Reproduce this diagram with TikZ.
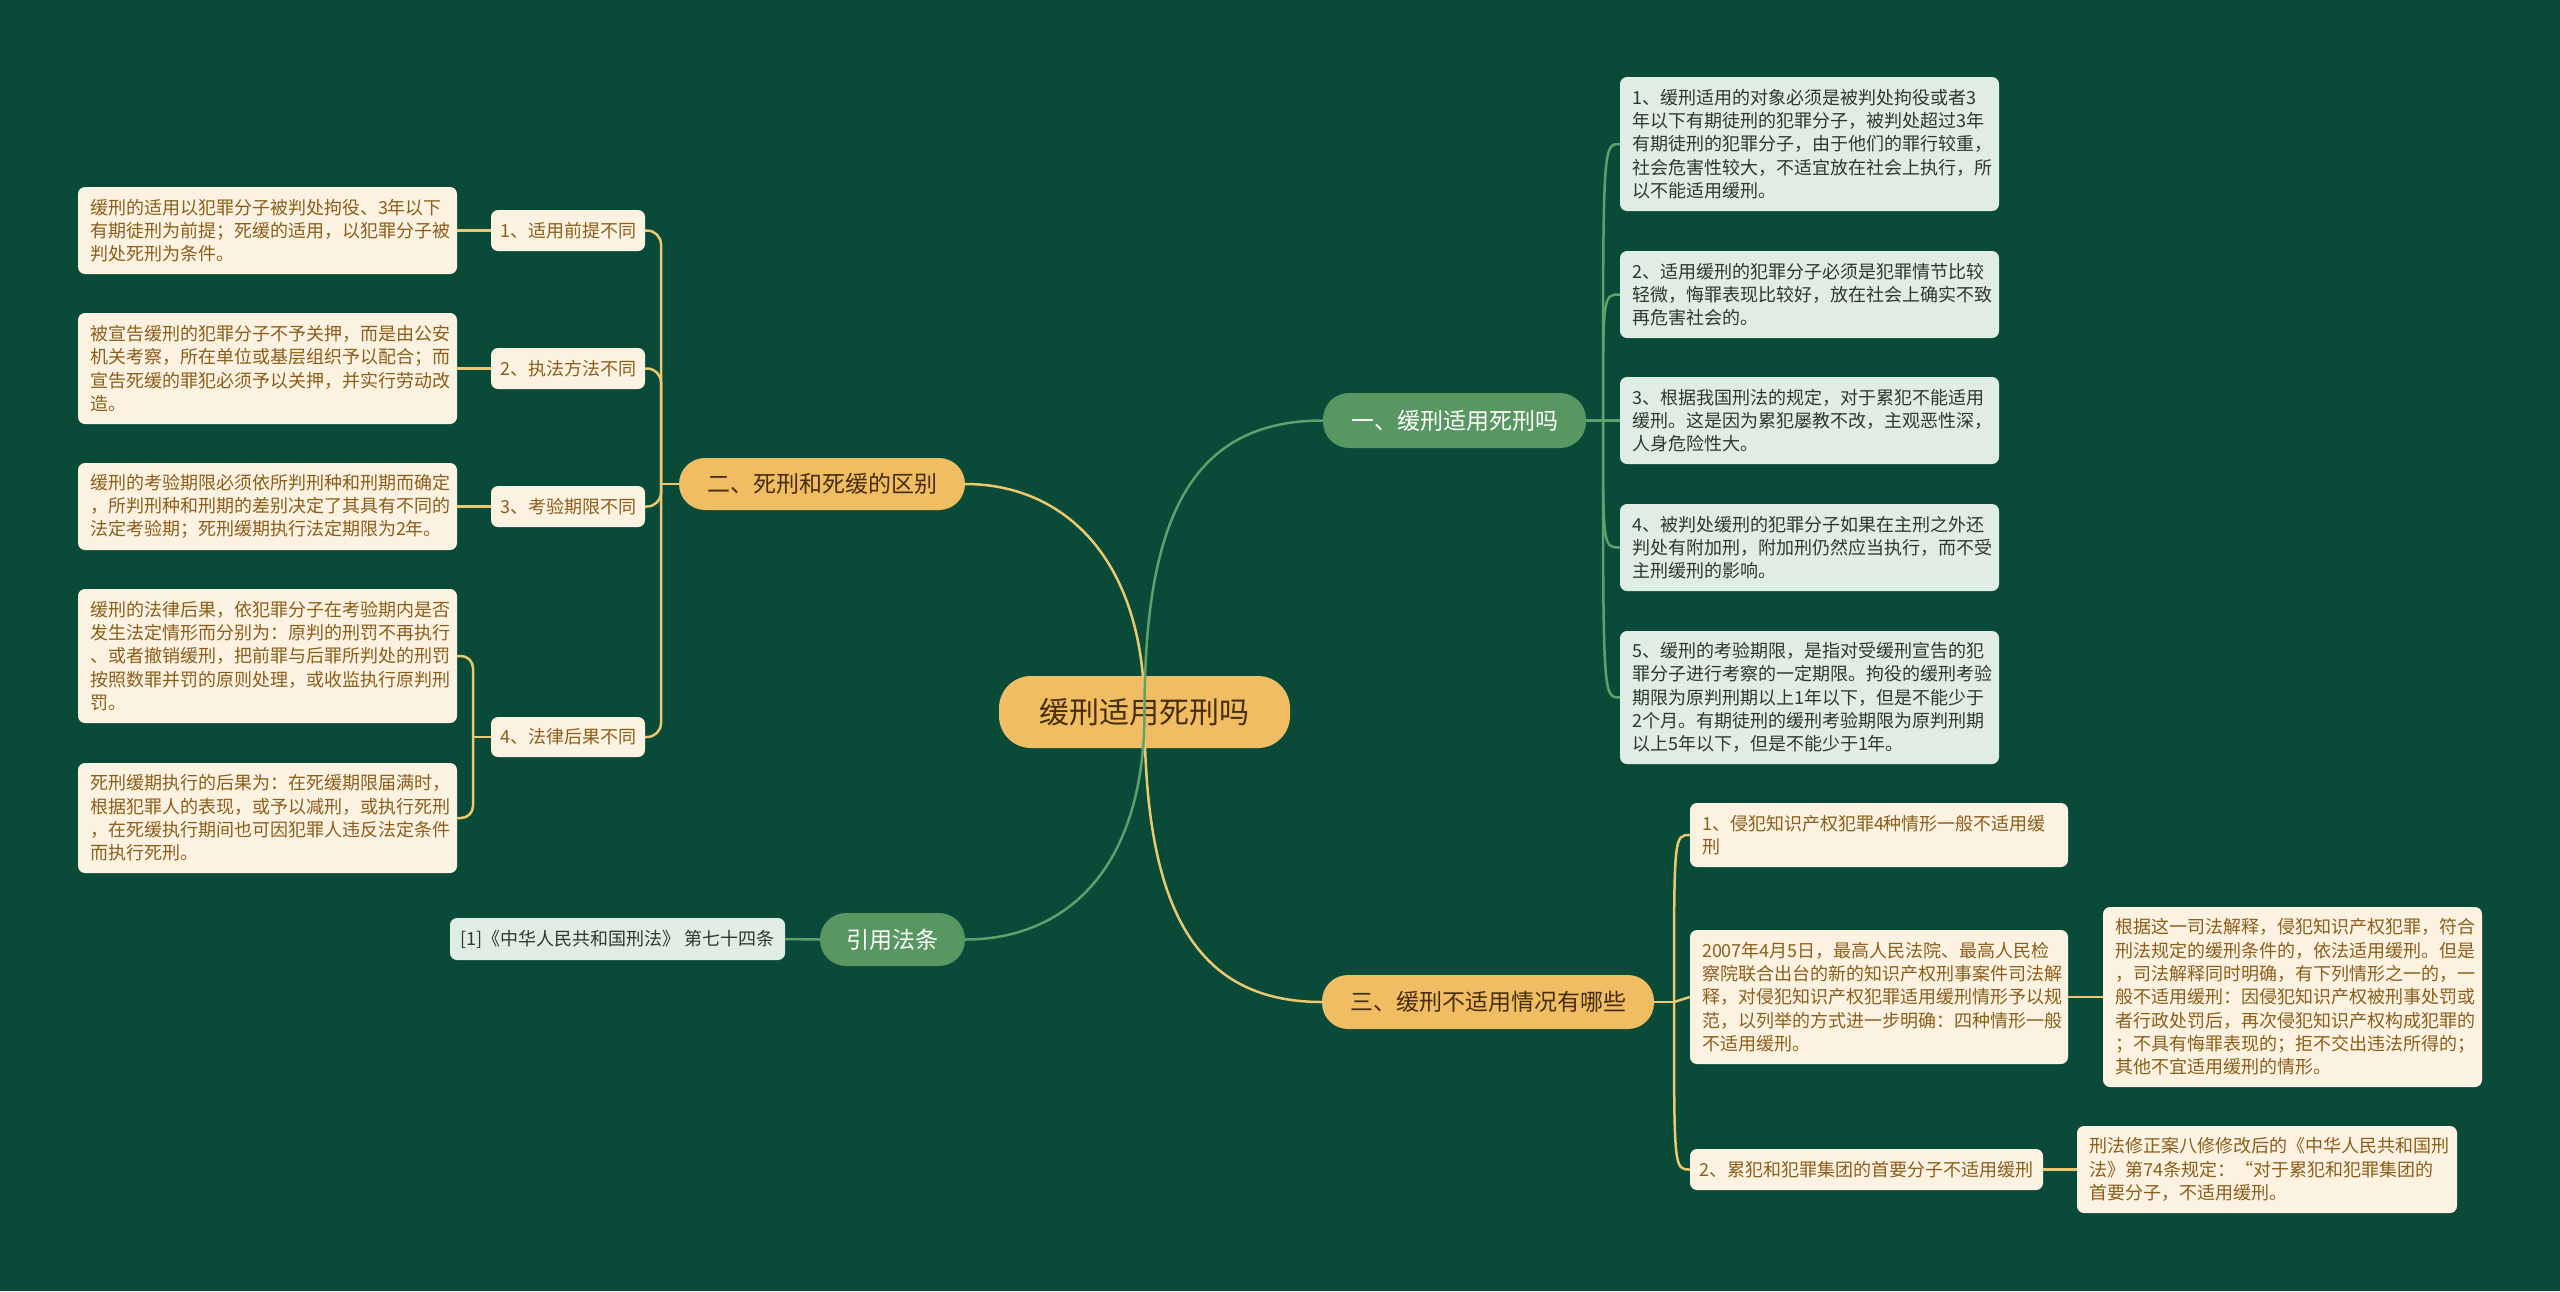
\documentclass[tikz,border=0pt]{standalone}
\usepackage{fontspec}
\newfontfamily\cjk{Noto Sans CJK SC}
\definecolor{bg}{RGB}{9,74,56}
\definecolor{yfill}{RGB}{240,189,98}
\definecolor{gfill}{RGB}{88,150,98}
\definecolor{leafy}{RGB}{252,242,226}
\definecolor{leafg}{RGB}{224,237,228}
\definecolor{ytext}{RGB}{139,94,26}
\definecolor{gtext}{RGB}{45,55,50}
\definecolor{btext}{RGB}{70,45,15}
\definecolor{lineY}{RGB}{236,200,112}
\definecolor{lineG}{RGB}{96,160,108}
\begin{document}
\begin{tikzpicture}[x=1pt,y=-1pt,
  leafY/.style={fill=leafy,text=ytext,rounded corners=7pt,inner xsep=12pt,inner ysep=0pt,
    align=left,font=\cjk\fontsize{18}{23.3}\selectfont},
  leafG/.style={fill=leafg,text=gtext,rounded corners=7pt,inner xsep=12pt,inner ysep=0pt,
    align=left,font=\cjk\fontsize{18}{23.3}\selectfont},
  labelY/.style={fill=leafy,text=ytext,rounded corners=7pt,inner sep=0pt,
    font=\cjk\fontsize{18}{23.3}\selectfont},
  branchY/.style={fill=yfill,text=btext,rounded corners=26pt,inner sep=0pt,
    font=\cjk\fontsize{23}{28}\selectfont},
  branchG/.style={fill=gfill,text=white,rounded corners=26pt,inner sep=0pt,
    font=\cjk\fontsize{23}{28}\selectfont},
  mainY/.style={draw=lineY,line width=2.5pt},
  mainG/.style={draw=lineG,line width=2.5pt},
  subY/.style={draw=lineY,line width=2.5pt},
  subG/.style={draw=lineG,line width=2.5pt}
]
\fill[bg] (0,0) rectangle (2560,1291);
\useasboundingbox (0,0) rectangle (2560,1291);

% root
\node[fill=yfill,text=btext,rounded corners=32pt,inner sep=0pt,minimum width=291pt,minimum height=72pt,
  font=\cjk\fontsize{30}{36}\selectfont] (root) at (1144.5,712) {缓刑适用死刑吗};

% branches
\node[branchY,minimum width=286pt,minimum height=52pt] (er) at (822,484) {二、死刑和死缓的区别};
\node[branchG,minimum width=263pt,minimum height=55pt] (yi) at (1454.5,420.5) {一、缓刑适用死刑吗};
\node[branchY,minimum width=332pt,minimum height=54pt] (san) at (1488,1002) {三、缓刑不适用情况有哪些};
\node[branchG,minimum width=145pt,minimum height=53pt] (yin) at (892.5,939.5) {引用法条};

% left labels
\node[labelY,minimum width=154pt,minimum height=41pt] (L1) at (568,230.5) {1、适用前提不同};
\node[labelY,minimum width=154pt,minimum height=41pt] (L2) at (568,368.5) {2、执法方法不同};
\node[labelY,minimum width=154pt,minimum height=41pt] (L3) at (568,506.5) {3、考验期限不同};
\node[labelY,minimum width=154pt,minimum height=40pt] (L4) at (568,737) {4、法律后果不同};

% left leaves
\node[leafY,text width=355pt,minimum height=87pt] (A1) at (267.5,230.5) {缓刑的适用以犯罪分子被判处拘役、3年以下\\有期徒刑为前提；死缓的适用，以犯罪分子被\\判处死刑为条件。};
\node[leafY,text width=355pt,minimum height=111pt] (A2) at (267.5,368.5) {被宣告缓刑的犯罪分子不予关押，而是由公安\\机关考察，所在单位或基层组织予以配合；而\\宣告死缓的罪犯必须予以关押，并实行劳动改\\造。};
\node[leafY,text width=355pt,minimum height=87pt] (A3) at (267.5,506.5) {缓刑的考验期限必须依所判刑种和刑期而确定\\，所判刑种和刑期的差别决定了其具有不同的\\法定考验期；死刑缓期执行法定期限为2年。};
\node[leafY,text width=355pt,minimum height=134pt] (A4a) at (267.5,656) {缓刑的法律后果，依犯罪分子在考验期内是否\\发生法定情形而分别为：原判的刑罚不再执行\\、或者撤销缓刑，把前罪与后罪所判处的刑罚\\按照数罪并罚的原则处理，或收监执行原判刑\\罚。};
\node[leafY,text width=355pt,minimum height=110pt] (A4b) at (267.5,818) {死刑缓期执行的后果为：在死缓期限届满时，\\根据犯罪人的表现，或予以减刑，或执行死刑\\，在死缓执行期间也可因犯罪人违反法定条件\\而执行死刑。};

% reference
\node[leafG,minimum width=335pt,minimum height=42pt,inner xsep=0pt,align=center] (ref) at (617.5,939) {[1]《中华人民共和国刑法》 第七十四条};

% right (一) leaves
\node[leafG,text width=355pt,minimum height=134pt] (R1) at (1809.5,144) {1、缓刑适用的对象必须是被判处拘役或者3\\年以下有期徒刑的犯罪分子，被判处超过3年\\有期徒刑的犯罪分子，由于他们的罪行较重，\\社会危害性较大，不适宜放在社会上执行，所\\以不能适用缓刑。};
\node[leafG,text width=355pt,minimum height=87pt] (R2) at (1809.5,294.5) {2、适用缓刑的犯罪分子必须是犯罪情节比较\\轻微，悔罪表现比较好，放在社会上确实不致\\再危害社会的。};
\node[leafG,text width=355pt,minimum height=87pt] (R3) at (1809.5,420.5) {3、根据我国刑法的规定，对于累犯不能适用\\缓刑。这是因为累犯屡教不改，主观恶性深，\\人身危险性大。};
\node[leafG,text width=355pt,minimum height=87pt] (R4) at (1809.5,547.5) {4、被判处缓刑的犯罪分子如果在主刑之外还\\判处有附加刑，附加刑仍然应当执行，而不受\\主刑缓刑的影响。};
\node[leafG,text width=355pt,minimum height=133pt] (R5) at (1809.5,697.5) {5、缓刑的考验期限，是指对受缓刑宣告的犯\\罪分子进行考察的一定期限。拘役的缓刑考验\\期限为原判刑期以上1年以下，但是不能少于\\2个月。有期徒刑的缓刑考验期限为原判刑期\\以上5年以下，但是不能少于1年。};

% 三 leaves
\node[leafY,text width=354pt,minimum height=64pt] (B1) at (1879,835) {1、侵犯知识产权犯罪4种情形一般不适用缓\\刑};
\node[leafY,text width=354pt,minimum height=134pt] (B2) at (1879,997) {2007年4月5日，最高人民法院、最高人民检\\察院联合出台的新的知识产权刑事案件司法解\\释，对侵犯知识产权犯罪适用缓刑情形予以规\\范，以列举的方式进一步明确：四种情形一般\\不适用缓刑。};
\node[leafY,text width=355pt,minimum height=180pt] (B2c) at (2292.5,997) {根据这一司法解释，侵犯知识产权犯罪，符合\\刑法规定的缓刑条件的，依法适用缓刑。但是\\，司法解释同时明确，有下列情形之一的，一\\般不适用缓刑：因侵犯知识产权被刑事处罚或\\者行政处罚后，再次侵犯知识产权构成犯罪的\\；不具有悔罪表现的；拒不交出违法所得的；\\其他不宜适用缓刑的情形。};
\node[labelY,minimum width=353pt,minimum height=41pt] (B3) at (1866.5,1169.5) {2、累犯和犯罪集团的首要分子不适用缓刑};
\node[leafY,text width=356pt,minimum height=87pt] (B3c) at (2267,1169.5) {刑法修正案八修修改后的《中华人民共和国刑\\法》第74条规定：“对于累犯和犯罪集团的\\首要分子，不适用缓刑。};

% junction coordinates
\coordinate (jL) at (661,484);
\coordinate (j4) at (473,737);
\coordinate (jR) at (1603,420.5);
\coordinate (jS) at (1674,1002);

% 二 bracket
\draw[subY] (er.west) -- (jL);
\foreach \n in {L1,L2,L3,L4}
  \draw[subY,rounded corners=14pt] (jL) |- (\n.east);
\draw[subY] (L1.west) -- (A1.east);
\draw[subY] (L2.west) -- (A2.east);
\draw[subY] (L3.west) -- (A3.east);
\draw[subY] (L4.west) -- (j4);
\draw[subY,rounded corners=12pt] (j4) |- (A4a.east);
\draw[subY,rounded corners=12pt] (j4) |- (A4b.east);

% 一 bracket
\draw[subG] (yi.east) -- (jR);
\foreach \n in {R1,R2,R4,R5}
  \draw[subG] (jR) .. controls (jR |- \n.west) .. (\n.west);
\draw[subG] (jR) -- (R3.west);

% 三 bracket
\draw[subY] (san.east) -- (jS);
\foreach \n in {B1,B3}
  \draw[subY] (jS) .. controls (jS |- \n.west) .. (\n.west);
\draw[subY] (jS) -- (B2.west);
\draw[subY] (B2.east) -- (B2c.west);
\draw[subY] (B3.east) -- (B3c.west);

% reference
\draw[subG] (yin.west) -- (ref.east);

% main curves (drawn over root)
\draw[mainY] (root.center) .. controls (1144.5,560) and (1065,484) .. (er.east);
\draw[mainG] (root.center) .. controls (1144.5,520) and (1190,420.5) .. (yi.west);
\draw[mainY] (root.center) .. controls (1144.5,900) and (1190,1002) .. (san.west);
\draw[mainG] (root.center) .. controls (1144.5,870) and (1065,939.5) .. (yin.east);
\end{tikzpicture}
\end{document}
